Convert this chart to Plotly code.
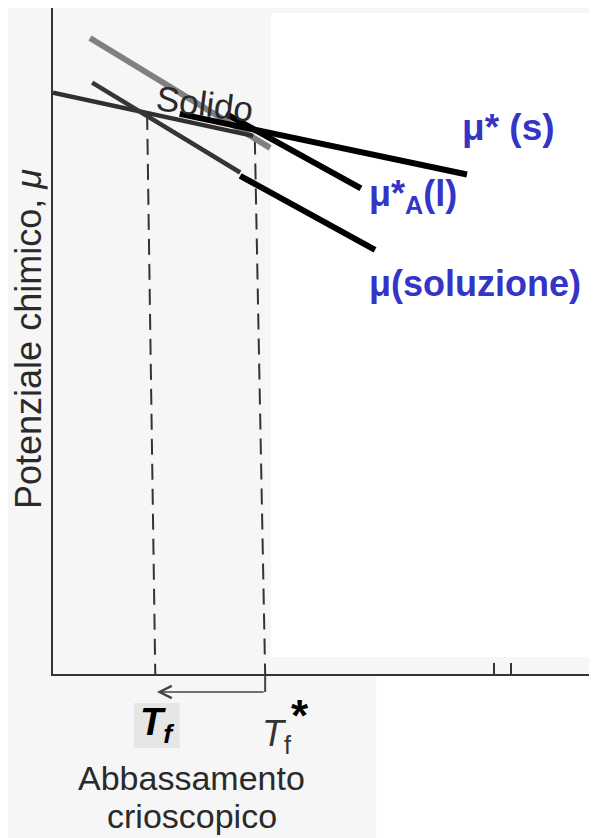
import plotly.graph_objects as go

# ---- data (arbitrary units) ----
scan_solid_x = [0.0, 3.68]
scan_solid_y = [8.73, 8.08]
scan_liquid_x = [0.68, 3.99]
scan_liquid_y = [9.55, 7.90]
scan_solution_x = [0.72, 3.44]
scan_solution_y = [8.88, 7.53]

mu_s_x = [2.33, 7.61]
mu_s_y = [8.41, 7.50]
mu_A_x = [3.18, 5.66]
mu_A_y = [8.41, 7.29]
mu_sol_x = [3.44, 5.92]
mu_sol_y = [7.48, 6.37]

dash_Tf_x = [1.73, 1.88]
dash_Tf_y = [8.41, 0.0]
dash_Tfstar_x = [3.71, 3.90]
dash_Tfstar_y = [8.04, 0.0]

scan_tick_x = [8.11, 8.42]

label_s = "<b>\u03bc* (s)</b>"
label_A = "<b>\u03bc*<sub>A</sub>(l)</b>"
label_sol = "<b>\u03bc(soluzione)</b>"
y_title = "Potenziale chimico, <i>\u03bc</i>"

BLUE = "#3434c8"
INK = "#2a2a2a"
FONT = "Liberation Sans, Arial, sans-serif"

fig = go.Figure()

def seg(x, y, color, width, dash="solid"):
    fig.add_trace(go.Scatter(x=x, y=y, mode="lines",
                             line=dict(color=color, width=width, dash=dash),
                             hoverinfo="skip", showlegend=False))

# dashed construction lines
seg(dash_Tf_x, dash_Tf_y, "#333333", 2, "16px,9px")
seg(dash_Tfstar_x, dash_Tfstar_y, "#333333", 2, "16px,9px")
# scanned curves
seg(scan_liquid_x, scan_liquid_y, "#808080", 6)
seg(scan_solid_x, scan_solid_y, "#303030", 4.5)
seg(scan_solution_x, scan_solution_y, "#353535", 4.5)
# overlay black lines
seg(mu_s_x, mu_s_y, "black", 6)
seg(mu_A_x, mu_A_y, "black", 6)
seg(mu_sol_x, mu_sol_y, "black", 6)

ann = []
ann.append(dict(x=7.48, y=8.20, xref="x", yref="y", text=label_s, showarrow=False,
                xanchor="left", yanchor="middle", font=dict(family=FONT, size=37, color=BLUE)))
ann.append(dict(x=5.77, y=7.18, xref="x", yref="y", text=label_A, showarrow=False,
                xanchor="left", yanchor="middle", font=dict(family=FONT, size=36, color=BLUE)))
ann.append(dict(x=5.77, y=5.86, xref="x", yref="y", text=label_sol, showarrow=False,
                xanchor="left", yanchor="middle", font=dict(family=FONT, size=36, color=BLUE)))
ann.append(dict(x=2.78, y=8.56, xref="x", yref="y", text="Solido", showarrow=False,
                textangle=7, font=dict(family=FONT, size=35, color=INK)))
# y title
ann.append(dict(x=-0.046, y=0.503, xref="paper", yref="paper", text=y_title, showarrow=False,
                textangle=-90, xanchor="center", yanchor="middle",
                font=dict(family=FONT, size=36, color=INK)))
# x labels
ann.append(dict(x=2.54, y=-0.156, xref="x", yref="paper", text="Abbassamento", showarrow=False,
                xanchor="center", yanchor="middle", font=dict(family=FONT, size=34, color=INK)))
ann.append(dict(x=2.56, y=-0.213, xref="x", yref="paper", text="crioscopico", showarrow=False,
                xanchor="center", yanchor="middle", font=dict(family=FONT, size=34, color=INK)))
# T labels
ann.append(dict(x=1.92, y=-0.077, xref="x", yref="paper", text="<b><i>T<sub>f</sub></i></b>",
                showarrow=False, xanchor="center", yanchor="middle",
                font=dict(family=FONT, size=38, color="black")))
ann.append(dict(x=4.28, y=-0.077, xref="x", yref="paper",
                text="<i>T</i><sub>f</sub><sup><b><span style='color:black;font-size:44px'>*</span></b></sup>",
                showarrow=False, xanchor="center", yanchor="middle",
                font=dict(family=FONT, size=36, color="#333333")))
# arrow below axis from Tf* to Tf
ann.append(dict(x=1.91, y=-0.027, xref="x", yref="paper", ax=3.90, ay=0, axref="x", ayref="pixel",
                text="", showarrow=True, arrowhead=5, arrowsize=1.6, arrowwidth=1.5,
                arrowcolor="#444444", standoff=0))
ann.append(dict(x=3.90, y=-0.027, xref="x", yref="paper", ax=0, ay=-18,
                text="", showarrow=True, arrowhead=0, arrowwidth=2,
                arrowcolor="#444444", standoff=0))

shapes = [
    dict(type="rect", xref="paper", yref="paper", x0=0.401, x1=1.0, y0=0.0255, y1=0.9925,
         fillcolor="white", line=dict(width=0), layer="below"),
    dict(type="rect", xref="paper", yref="paper", x0=0.594, x1=1.0, y0=-0.26, y1=-0.002,
         fillcolor="white", line=dict(width=0), layer="below"),
    dict(type="rect", xref="paper", yref="paper", x0=0.149, x1=0.233, y0=-0.111, y1=-0.0435,
         fillcolor="#e6e6e6", line=dict(width=0), layer="below"),
]

fig.update_layout(
    width=589, height=830,
    margin=dict(l=45, r=0, t=0, b=164),
    paper_bgcolor="#f6f6f6",
    plot_bgcolor="rgba(0,0,0,0)",
    showlegend=False,
    annotations=ann,
    shapes=shapes,
    xaxis=dict(range=[0, 10], showgrid=False, zeroline=False, showline=True,
               linecolor="#333333", linewidth=2, ticks="inside", tickvals=scan_tick_x,
               ticklen=11, tickwidth=2, tickcolor="#333333", showticklabels=False),
    yaxis=dict(range=[0, 10], showgrid=False, zeroline=False, showline=True,
               linecolor="#333333", linewidth=2, ticks="", showticklabels=False),
)

fig.write_html("out.html")
